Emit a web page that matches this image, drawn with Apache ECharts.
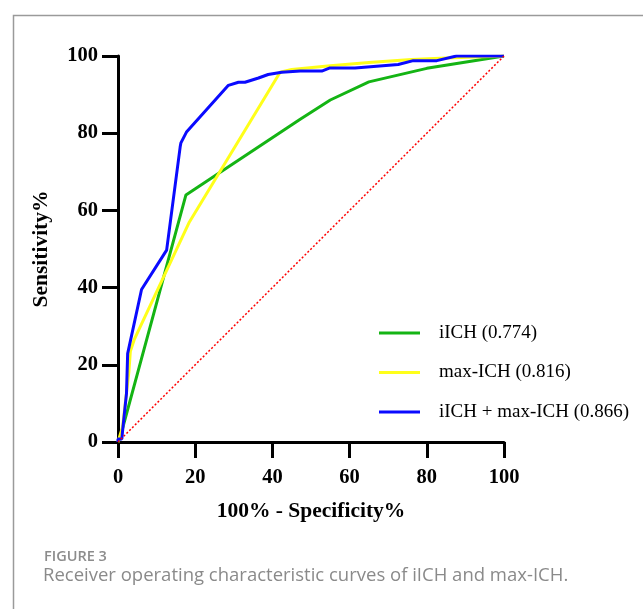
<!DOCTYPE html>
<html>
<head>
<meta charset="utf-8">
<script src="https://cdn.jsdelivr.net/npm/echarts@6/dist/echarts.min.js"></script>
<style>
html,body{margin:0;padding:0;background:#fff;}
#chart{width:643px;height:609px;}
</style>
</head>
<body>
<div id="chart"></div>
<script>
// ---- data ----
var xTicks = [0, 20, 40, 60, 80, 100];
var yTicks = [0, 20, 40, 60, 80, 100];
var seriesNames = ['iICH (0.774)', 'max-ICH (0.816)', 'iICH + max-ICH (0.866)'];
var iICH = [[0,0],[0.5,1],[17.6,64],[47.2,83.6],[55,88.6],[65,93.3],[80,96.8],[100,100]];
var maxICH = [[0,0],[1.2,4],[2.8,18],[3.2,23.5],[4.2,26.5],[18.5,57],[42,95.8],[45,96.5],[55,97.5],[65,98.3],[76,99.1],[85,99.5],[100,100]];
var combined = [[0,0],[0,0.8],[1.0,0.8],[1.2,3],[2.2,12.6],[2.5,22.9],[6.1,39.5],[12.6,49.7],[16.1,76.4],[16.3,77.5],[17.8,80.4],[28.6,92.4],[31.2,93.2],[32.9,93.2],[36.4,94.3],[38.9,95.2],[42.4,95.8],[47.2,96.1],[52.8,96.1],[54.9,96.9],[61.4,96.9],[72.6,97.8],[76.5,98.8],[82.6,98.8],[87.7,100],[100,100]];
var reference = [[0,0],[100,100]];
var colors = ['#14b414', '#ffff1a', '#0a0aff'];

var chart = echarts.init(document.getElementById('chart'), null, {renderer:'canvas'});
var serif = 'Liberation Serif, Times New Roman, serif';
var axisCommon = {
  type: 'value', min: 0, max: 100, interval: 20,
  splitLine: {show:false},
  axisLine: {show:true, onZero:false, lineStyle:{color:'#000', width:3}},
  axisTick: {show:true, length:16, lineStyle:{color:'#000', width:3}},
  nameLocation: 'middle',
  nameTextStyle: {fontFamily: serif, fontWeight:'bold', fontSize:21.5, color:'#000'}
};
chart.setOption({
  animation: false,
  grid: {left:118, top:56, width:386, height:386, containLabel:false},
  xAxis: Object.assign({}, axisCommon, {
    name: '100% - Specificity%', nameGap: 58,
    axisLabel: {fontFamily: serif, fontWeight:'bold', fontSize:20.5, color:'#000', margin:25,
      formatter: function(v){ return xTicks.indexOf(v) >= 0 ? String(v) : ''; }}
  }),
  yAxis: Object.assign({}, axisCommon, {
    name: 'Sensitivity%', nameGap: 66,
    axisLabel: {fontFamily: serif, fontWeight:'bold', fontSize:20.5, color:'#000', margin:20,
      formatter: function(v){ return yTicks.indexOf(v) >= 0 ? String(v) : ''; }}
  }),
  legend: {
    orient:'vertical', left:374, top:318, itemWidth:41, itemHeight:3, itemGap:19.5,
    icon:'rect',
    textStyle:{fontFamily: serif, fontSize:19, color:'#000', lineHeight:20, padding:[0,0,0,14]},
    data: seriesNames
  },
  series: [
    {name: seriesNames[0], type:'line', data:iICH, symbol:'none', lineStyle:{color:colors[0], width:3}, itemStyle:{color:colors[0]}},
    {name: seriesNames[1], type:'line', data:maxICH, symbol:'none', lineStyle:{color:colors[1], width:3}, itemStyle:{color:colors[1]}},
    {name: seriesNames[2], type:'line', data:combined, symbol:'none', lineStyle:{color:colors[2], width:3}, itemStyle:{color:colors[2]}},
    {name: 'reference', type:'line', data:reference, symbol:'none', lineStyle:{color:'#ff0000', width:1.5, type:[2,2]}, silent:true}
  ],
  graphic: [
    {type:'rect', left:11, top:13, shape:{x:0,y:0,width:700,height:700}, style:{fill:'none', stroke:'#9a9a9a', lineWidth:1.5}, z:-1},
    {type:'text', left:44, top:549, style:{text:'FIGURE 3', font:'600 14.5px "Open Sans", sans-serif', fill:'#8c8c8c'}},
    {type:'text', left:43, top:566, style:{text:'Receiver operating characteristic curves of iICH and max-ICH.', font:'18.5px "Open Sans", sans-serif', fill:'#8a8a8a'}}
  ]
});
</script>
</body>
</html>
